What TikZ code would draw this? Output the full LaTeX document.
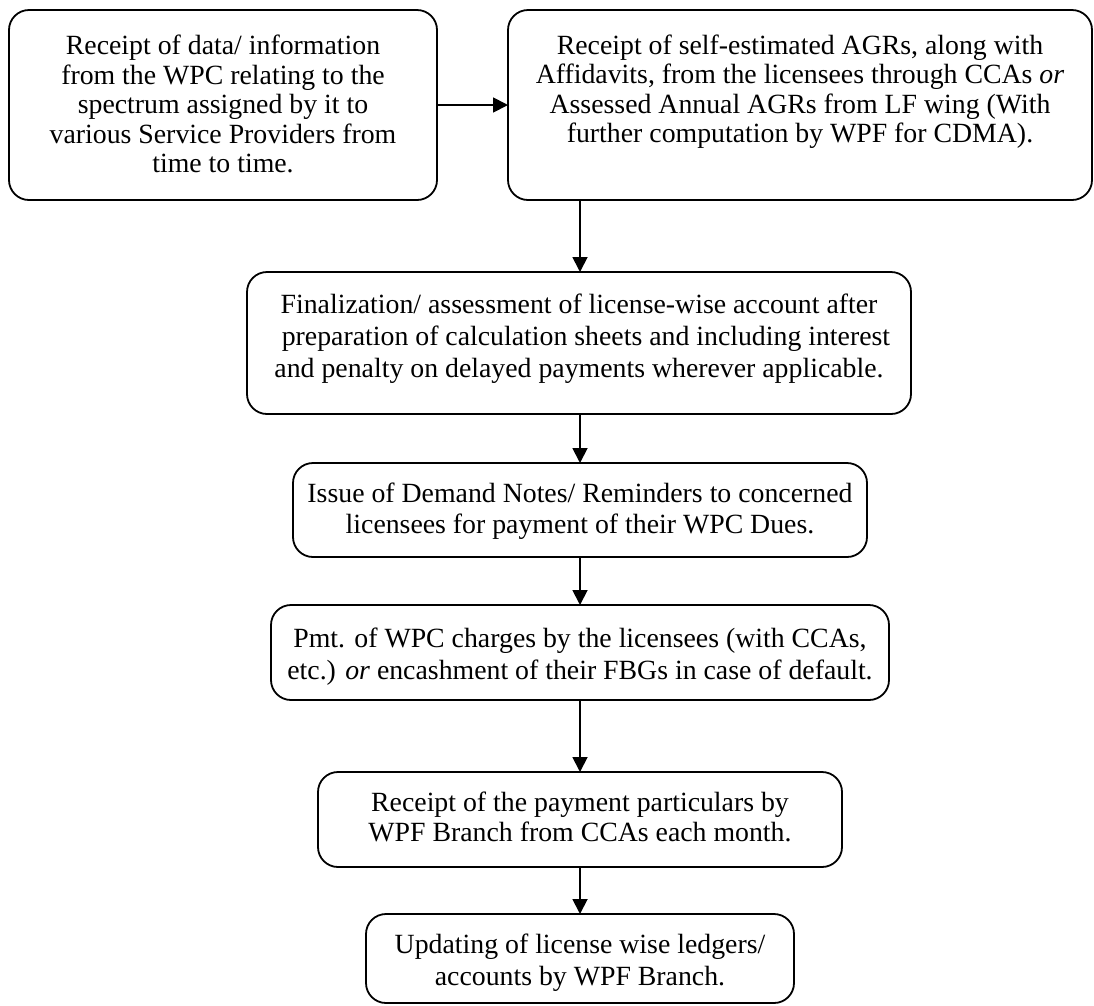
\documentclass[tikz,border=0pt]{standalone}
\usepackage{fontspec}
\setmainfont{Liberation Serif}
\usetikzlibrary{arrows.meta}
% width, height, first-baseline offset, baselineskip, text
\newcommand{\flowtext}[5]{%
  \begin{minipage}[c][#2][t]{#1}\fontsize{27.8}{#4}\selectfont\centering
  \rule{0pt}{#3}#5\par\end{minipage}}
\begin{document}
\begin{tikzpicture}[x=1pt,y=-1pt,
  flowbox/.style={draw,line width=1.8pt,rounded corners=20pt,inner sep=0pt,outer sep=0pt,anchor=north west},
  arr/.style={line width=1.8pt,-{Triangle[length=15pt,width=15pt]}}]
\useasboundingbox[fill=white] (0,0) rectangle (1094,1005);
\node[flowbox] (b1) at (9,10) {\flowtext{428pt}{190pt}{44.5pt}{29.5pt}{Receipt of data/ information\\ from the WPC relating to the\\ spectrum assigned by it to\\ various Service Providers from\\ time to time.}};
\node[flowbox] (b2) at (508,10) {\flowtext{584pt}{190pt}{44pt}{29.5pt}{Receipt of self-estimated AGRs, along with\\ Affidavits, from the licensees through CCAs \textit{or}\\ Assessed Annual AGRs from LF wing (With\\ further computation by WPF for CDMA).}};
\node[flowbox] (b3) at (247,272) {\flowtext{664pt}{142pt}{41pt}{32pt}{Finalization/ assessment of license-wise account after\\ \hspace*{0.5em}preparation of calculation sheets and including interest\\ and penalty on delayed payments wherever applicable.}};
\node[flowbox] (b4) at (293,463) {\flowtext{574pt}{94pt}{39pt}{31pt}{Issue of Demand Notes/ Reminders to concerned\\ licensees for payment of their WPC Dues.}};
\node[flowbox] (b5) at (271,605) {\flowtext{618pt}{95pt}{42pt}{32pt}{Pmt. of WPC charges by the licensees (with CCAs,\\ etc.) \textit{or} encashment of their FBGs in case of default.}};
\node[flowbox] (b6) at (318,772) {\flowtext{524pt}{95pt}{39pt}{30.5pt}{Receipt of the payment particulars by\\ WPF Branch from CCAs each month.}};
\node[flowbox] (b7) at (366,914) {\flowtext{428pt}{89pt}{39pt}{32pt}{Updating of license wise ledgers/\\ accounts by WPF Branch.}};
\coordinate (ax) at (580,0);
\draw[arr] (b1) -- (b2);
\draw[arr] (b2.south -| ax) -- (b3.north -| ax);
\draw[arr] (b3.south -| ax) -- (b4.north -| ax);
\draw[arr] (b4.south -| ax) -- (b5.north -| ax);
\draw[arr] (b5.south -| ax) -- (b6.north -| ax);
\draw[arr] (b6.south -| ax) -- (b7.north -| ax);
\end{tikzpicture}
\end{document}
